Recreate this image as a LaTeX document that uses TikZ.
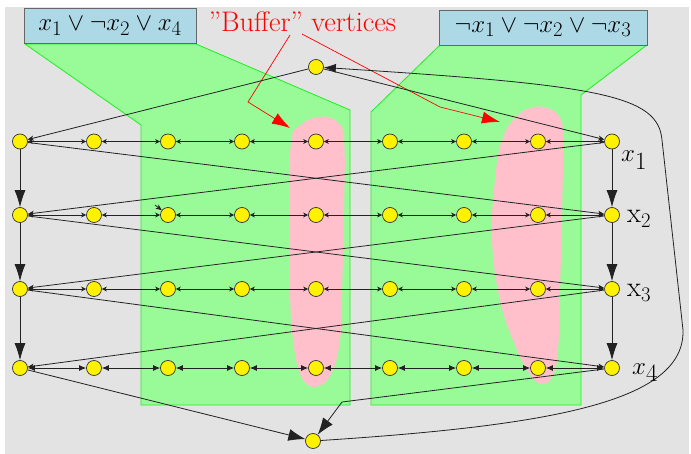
\documentclass[tikz,border=0pt]{standalone}
\usetikzlibrary{arrows.meta,calc}
\definecolor{bggrey}{HTML}{E3E3E3}
\definecolor{palegr}{HTML}{98FB98}
\definecolor{edgegr}{HTML}{22EE22}
\definecolor{pinkb}{HTML}{FFC0CB}
\definecolor{boxblue}{HTML}{ADD8E6}
\definecolor{vtxline}{HTML}{333333}
\definecolor{edgecol}{HTML}{222222}
\tikzset{
  vtx/.style={circle,fill=yellow,draw=vtxline,line width=0.7pt,minimum size=15pt,inner sep=0pt},
  harr/.style={draw=edgecol,line width=0.8pt,{Stealth[length=5pt,width=5pt,inset=1.5pt]}-{Stealth[length=5pt,width=5pt,inset=1.5pt]}},
  larr/.style={draw=edgecol,line width=0.8pt,{Latex[length=7pt,width=6pt]}-{Latex[length=7pt,width=6pt]}},
  darr/.style={draw=edgecol,line width=0.8pt,-{Stealth[length=6pt,width=5pt,inset=1.5pt]}},
  varr/.style={draw=edgecol,line width=0.8pt,-{Latex[length=17pt,width=11pt]}},
  barr/.style={draw=edgecol,line width=0.8pt,-{Latex[length=17pt,width=12pt]}},
  carr/.style={draw=edgecol,line width=0.8pt,-{Latex[length=12pt,width=9pt]}},
  rarr/.style={draw=red,line width=0.7pt,-{Latex[length=18pt,width=12pt]}},
  greenpoly/.style={fill=palegr,draw=edgegr,line width=0.8pt},
  clause/.style={fill=boxblue,draw=gray!80!black,line width=0.8pt,inner sep=0pt,font=\fontsize{29}{33}\selectfont},
  lbl/.style={inner sep=0pt,anchor=base west,font=\fontsize{33}{38}\selectfont}
}
\begin{document}
\begin{tikzpicture}[x=1pt,y=-1pt]
\useasboundingbox (0,0) rectangle (691,454);
\fill[bggrey] (5,7) rectangle (689,454);
% green regions
\draw[greenpoly] (25,44) -- (141,125) -- (141,405) -- (350,405) -- (350,110) -- (196,44) -- cycle;
\draw[greenpoly] (440,45) -- (371,112) -- (371,405) -- (581,405) -- (581,95) -- (647,45) -- cycle;
% pink blobs
\fill[pinkb] plot[smooth cycle,tension=0.7] coordinates {(318,117) (336,121) (344,140) (344,210) (342,290) (340,340) (331,374) (315,387) (301,376) (293,340) (290,290) (290,200) (291,142) (299,126)};
\fill[pinkb] plot[smooth cycle,tension=0.7] coordinates {(547,108) (560,118) (563,140) (562,215) (560,290) (558,350) (553,375) (543,384) (531,376) (515,345) (500,300) (492,240) (495,180) (502,140) (515,118) (530,108)};
% clause boxes
\node[clause,minimum width=172pt,minimum height=35pt] (c1) at (110,26) {$x_1 \lor \neg x_2 \lor x_4$};
\node[clause,minimum width=208pt,minimum height=35pt] (c2) at (543,27.5) {$\neg x_1 \lor \neg x_2 \lor \neg x_3$};
% buffer label
\node[inner sep=0pt,anchor=base,text=red,font=\fontsize{28.3}{33}\selectfont] (buf) at (302.5,32) {\textquotedblright Buffer\textquotedblright{} vertices};
\coordinate (r1a) at (290,35);
\coordinate (r1b) at (248,102);
\coordinate (r1c) at (290,128);
\coordinate (r2a) at (302,34);
\coordinate (r2b) at (440,107);
\coordinate (r2c) at (500,122);
\draw[rarr] (r1a) -- (r1b) -- (r1c);
\draw[rarr] (r2a) -- (r2b) -- (r2c);
% vertices
\foreach \r/\y in {1/141.5,2/215,3/289,4/368}{
  \foreach \c in {1,...,9}{
    \node[vtx] (n\r\c) at ({20+74*(\c-1)},\y) {};
  }
}
\node[vtx] (top) at (316,67) {};
\node[vtx] (bot) at (313,441) {};
% horizontal edges
\foreach \r in {1,2,3}{
  \foreach \c [evaluate=\c as \d using int(\c+1)] in {1,...,8}{
    \draw[harr] (n\r\c) -- (n\r\d);
  }
}
\foreach \c [evaluate=\c as \d using int(\c+1)] in {1,...,8}{
  \draw[larr] (n4\c) -- (n4\d);
}
% diagonals and verticals
\foreach \r/\s in {1/2,2/3,3/4}{
  \draw[darr] (n\r1) -- (n\s9);
  \draw[darr] (n\r9) -- (n\s1);
  \draw[varr] (n\r1) -- (n\s1);
  \draw[varr] (n\r9) -- (n\s9);
}
% stray tip
\coordinate (st) at (155,205);
\draw[darr] (st) -- (n23);
% top node edges
\draw[darr] (top) -- (n11);
\draw[darr] (top) -- (n19);
% bottom node edges
\draw[barr] (n41) -- (bot);
\coordinate (kink) at (342,402);
\draw[barr] (n49) -- (kink) -- (bot);
\coordinate (cv1) at (683,330);
\coordinate (cv2) at (662,140);
\draw[carr] (bot) .. controls (560,425) and (685,400) .. (cv1) -- (cv2) .. controls (658,95) and (600,85) .. (top);
% labels
\node[lbl] (lx1) at (621,162) {$x_1$};
\node[lbl,font=\fontsize{28.5}{33}\selectfont] (lx2) at (627,223) {x$_2$};
\node[lbl,font=\fontsize{28.5}{33}\selectfont] (lx3) at (627,297) {x$_3$};
\node[lbl] (lx4) at (632,374) {$x_4$};
\end{tikzpicture}
\end{document}
